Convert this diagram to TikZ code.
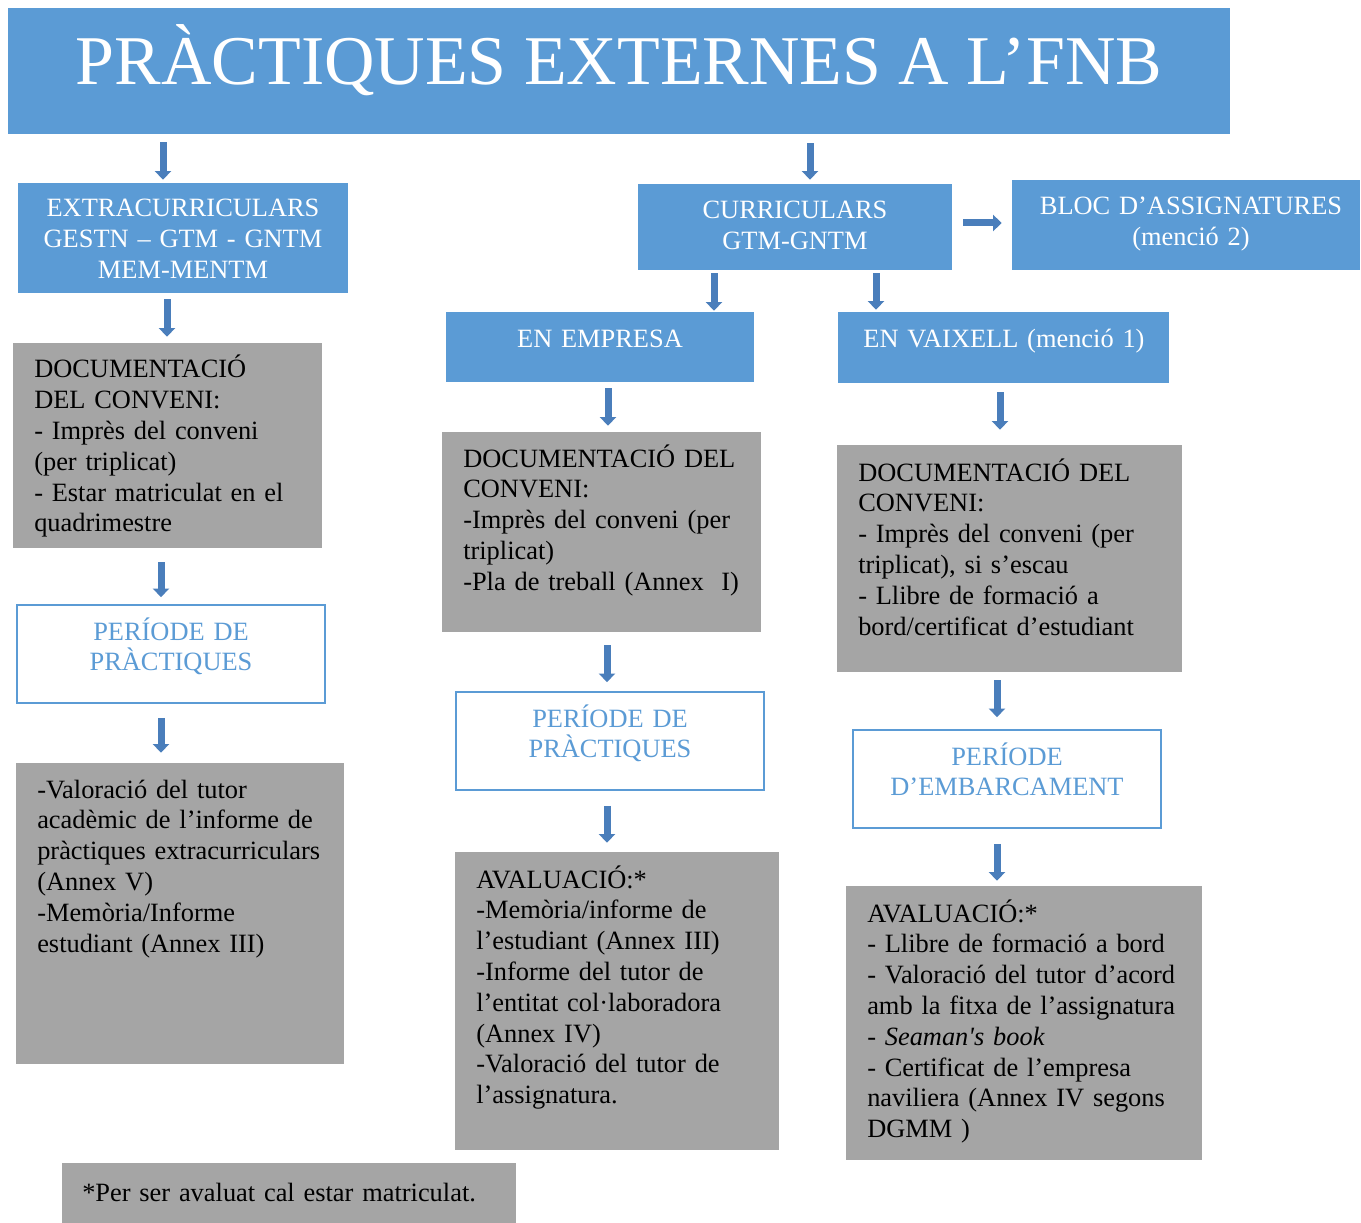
\documentclass[tikz,border=0pt]{standalone}
\usepackage{fontspec}
\setmainfont{Liberation Serif}[WordSpace=0.75]
\newfontfamily\plainserif{Liberation Serif}[WordSpace=0.75]
\newfontfamily\titleserif{Liberation Serif}
\usetikzlibrary{fit,arrows.meta}
\definecolor{bluebox}{HTML}{5B9BD5}
\definecolor{greybox}{HTML}{A5A5A5}
\definecolor{arrowc}{HTML}{4A7EBB}
\newcommand{\bodyfont}{\fontsize{19.8}{23.1}\selectfont}
\begin{document}
\begin{tikzpicture}[x=0.75pt,y=-0.75pt,
  bbox/.style={fill=bluebox, draw=none, inner sep=0pt},
  gbox/.style={fill=greybox, draw=none, inner sep=0pt},
  wbox/.style={fill=white, draw=bluebox, line width=1.2pt, inner sep=0pt},
  btxt/.style={text=white, font=\bodyfont, align=center, text width=260pt, inner sep=0pt, anchor=base},
  wtxt/.style={text=bluebox, font=\bodyfont, align=center, text width=220pt, inner sep=0pt, anchor=base},
  gtxt/.style={text=black, font=\bodyfont, align=left, inner sep=0pt, anchor=base west},
  arr/.style={draw=arrowc, line width=5.25pt, -{Triangle[width=12pt,length=6.5pt]}}
]
\useasboundingbox (0,0) rectangle (1361,1223);

% boxes
\node[bbox, fit={(8,8)(1230,134)}] (title) {};
\node[bbox, fit={(18,183)(348,293)}] (extra) {};
\node[gbox, fit={(13,343)(322,548)}] (doc1) {};
\node[wbox, fit={(17,605)(325,703)}] (per1) {};
\node[gbox, fit={(16,763)(344,1064)}] (val1) {};
\node[bbox, fit={(638,184)(952,270)}] (curr) {};
\node[bbox, fit={(1012,180)(1360,270)}] (bloc) {};
\node[bbox, fit={(446,312)(754,382)}] (emp) {};
\node[bbox, fit={(838,312)(1169,383)}] (vaix) {};
\node[gbox, fit={(442,432)(761,632)}] (doc2) {};
\node[wbox, fit={(456,692)(764,790)}] (per2) {};
\node[gbox, fit={(455,852)(779,1150)}] (aval2) {};
\node[gbox, fit={(837,445)(1182,672)}] (doc3) {};
\node[wbox, fit={(853,730)(1161,828)}] (per3) {};
\node[gbox, fit={(846,886)(1202,1160)}] (aval3) {};
\node[gbox, fit={(62,1163)(516,1223)}] (note) {};

% texts
\node[text=white, font=\titleserif\fontsize{52.4}{60}\selectfont, inner sep=0pt, anchor=base] (titletxt) at (619,85) {PRÀCTIQUES EXTERNES A L’FNB};
\node[btxt] (extratxt) at (183,217) {EXTRACURRICULARS\\GESTN – GTM - GNTM\\MEM-MENTM};
\node[btxt] (currtxt) at (795,219) {CURRICULARS\\GTM-GNTM};
\node[btxt] (bloctxt) at (1191,215) {BLOC D’ASSIGNATURES\\(menció 2)};
\node[btxt] (emptxt) at (600,348) {EN EMPRESA};
\node[btxt] (vaixtxt) at (1004,348) {EN VAIXELL (menció 1)};
\node[wtxt] (per1txt) at (171,640) {PERÍODE DE\\PRÀCTIQUES};
\node[wtxt] (per2txt) at (610,727) {PERÍODE DE\\PRÀCTIQUES};
\node[wtxt] (per3txt) at (1007,765) {PERÍODE\\D’EMBARCAMENT};

\node[gtxt, text width=215pt] (doc1txt) at (34,378) {DOCUMENTACIÓ\\DEL CONVENI:\\- Imprès del conveni\\(per triplicat)\\- Estar matriculat en el\\quadrimestre};
\node[gtxt, text width=230pt] (val1txt) at (37,798) {-Valoració del tutor\\acadèmic de l’informe de\\pràctiques extracurriculars\\(Annex V)\\-Memòria/Informe\\estudiant (Annex III)};
\node[gtxt, text width=225pt] (doc2txt) at (463,467) {DOCUMENTACIÓ DEL\\CONVENI:\\-Imprès del conveni (per\\triplicat)\\-Pla de treball (Annex~~I)};
\node[gtxt, text width=225pt] (aval2txt) at (476,888) {AVALUACIÓ:*\\-Memòria/informe de\\l’estudiant (Annex III)\\-Informe del tutor de\\l’entitat col·laboradora\\(Annex IV)\\-Valoració del tutor de\\l’assignatura.};
\node[gtxt, text width=245pt] (doc3txt) at (858,481) {DOCUMENTACIÓ DEL\\CONVENI:\\- Imprès del conveni (per\\triplicat), si s’escau\\- Llibre de formació a\\bord/certificat d’estudiant};
\node[gtxt, text width=250pt] (aval3txt) at (867,922) {AVALUACIÓ:*\\- Llibre de formació a bord\\- Valoració del tutor d’acord\\amb la fitxa de l’assignatura\\- {\plainserif\itshape Seaman's book}\\- Certificat de l’empresa\\naviliera (Annex IV segons\\DGMM )};
\node[gtxt, text width=320pt] (notetxt) at (82,1201) {*Per ser avaluat cal estar matriculat.};

% arrow x positions
\coordinate (a1) at (163,0);
\coordinate (a2) at (810,0);
\coordinate (a3) at (167,0);
\coordinate (a4) at (161,0);
\coordinate (a6) at (0,223);
\coordinate (a7) at (714,0);
\coordinate (a8) at (876,0);
\coordinate (a9) at (608,0);
\coordinate (a10) at (607,0);
\coordinate (a12) at (1000,0);
\coordinate (a13) at (997,0);

% arrows
\draw[arr, shorten <=6pt, shorten >=2.25pt] (title.south -| a1) -- (extra.north -| a1);
\draw[arr, shorten <=6.75pt, shorten >=3pt] (title.south -| a2) -- (curr.north -| a2);
\draw[arr, shorten <=4.5pt, shorten >=4.5pt] (extra.south -| a3) -- (doc1.north -| a3);
\draw[arr, shorten <=10.5pt, shorten >=5.25pt] (doc1.south -| a4) -- (per1.north -| a4);
\draw[arr, shorten <=10.5pt, shorten >=7.5pt] (per1.south -| a4) -- (val1.north -| a4);
\draw[arr, shorten <=8.25pt, shorten >=7.5pt] (curr.east |- a6) -- (bloc.west |- a6);
\draw[arr, shorten <=2.25pt, shorten >=0.75pt] (curr.south -| a7) -- (emp.north -| a7);
\draw[arr, shorten <=2.25pt, shorten >=1.5pt] (curr.south -| a8) -- (vaix.north -| a8);
\draw[arr, shorten <=4.5pt, shorten >=4.5pt] (emp.south -| a9) -- (doc2.north -| a9);
\draw[arr, shorten <=9.75pt, shorten >=6.75pt] (doc2.south -| a10) -- (per2.north -| a10);
\draw[arr, shorten <=11.25pt, shorten >=6.75pt] (per2.south -| a10) -- (aval2.north -| a10);
\draw[arr, shorten <=6.75pt, shorten >=11.25pt] (vaix.south -| a12) -- (doc3.north -| a12);
\draw[arr, shorten <=6pt, shorten >=9pt] (doc3.south -| a13) -- (per3.north -| a13);
\draw[arr, shorten <=11.25pt, shorten >=3.75pt] (per3.south -| a13) -- (aval3.north -| a13);
\end{tikzpicture}
\end{document}
